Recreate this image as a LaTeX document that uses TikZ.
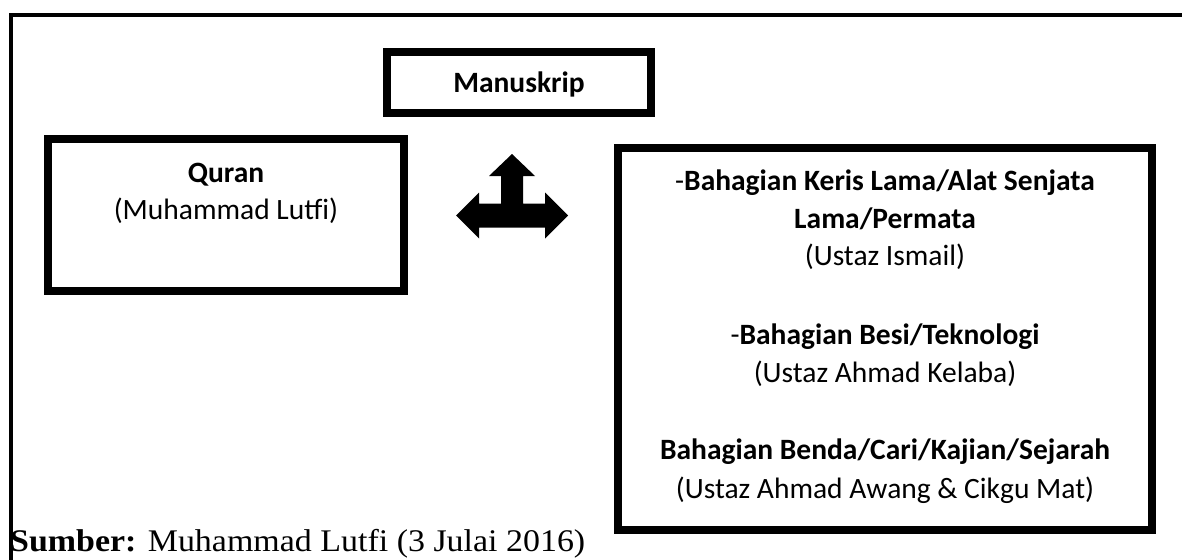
\documentclass[tikz,border=0pt]{standalone}
\usepackage{fontspec}
\usepackage{graphicx}
\setmainfont{Carlito}
\newfontfamily\srcfont{Liberation Serif}
\tikzset{
  boxstyle/.style={draw=black, line width=8pt, fill=none, inner sep=0pt},
  txt/.style={anchor=base, inner sep=0pt, font=\fontsize{29.5}{38.5}\selectfont},
  frameline/.style={line width=4pt, line join=miter},
}
\begin{document}
\begin{tikzpicture}[x=1pt,y=-1pt]
\useasboundingbox (0,0) rectangle (1182,559);
\fill[white] (0,0) rectangle (1182,559);
\begin{scope}
\clip (0,0) rectangle (1182,559);
% outer frame
\draw[frameline] (10.5,570) -- (10.5,15.3) -- (1195,15.3);

% boxes
\node[boxstyle, minimum width=264pt, minimum height=61pt] (manus) at (519,82.5) {};
\node[boxstyle, minimum width=356pt, minimum height=152pt] (quran) at (226,215) {};
\node[boxstyle, minimum width=534pt, minimum height=382pt] (bahagian) at (885,338.5) {};

% texts
\node[txt] (tmanus) at (519,93) {\textbf{Manuskrip}};
\node[txt] (tq1) at (226,182) {\textbf{Quran}};
\node[txt] (tq2) at (226,219) {(Muhammad Lutfi)};

\node[txt] (tb1) at (885,190) {-\textbf{Bahagian Keris Lama/Alat Senjata}};
\node[txt] (tb2) at (885,228) {\textbf{Lama/Permata}};
\node[txt] (tb3) at (885,265) {(Ustaz Ismail)};
\node[txt] (tb4) at (885,344) {-\textbf{Bahagian Besi/Teknologi}};
\node[txt] (tb5) at (885,382) {(Ustaz Ahmad Kelaba)};
\node[txt] (tb6) at (885,459) {\textbf{Bahagian Benda/Cari/Kajian/Sejarah}};
\node[txt] (tb7) at (885,498) {(Ustaz Ahmad Awang \& Cikgu Mat)};

% three-way arrow
\fill[black] (512,154) -- (535,176) -- (523,176) -- (523,203.5) -- (545,203.5)
  -- (545,192.5) -- (568,215.5) -- (545,238.5) -- (545,227.5) -- (479,227.5)
  -- (479,238.5) -- (456,215.5) -- (479,192.5) -- (479,203.5) -- (501,203.5)
  -- (501,176) -- (489,176) -- cycle;

% source line
\node[anchor=base west, inner sep=0pt] (sumber) at (10,551)
  {\resizebox{575pt}{\height}{\srcfont\fontsize{31.5}{36}\selectfont\textbf{Sumber:} Muhammad Lutfi (3 Julai 2016)}};
\end{scope}
\end{tikzpicture}
\end{document}
